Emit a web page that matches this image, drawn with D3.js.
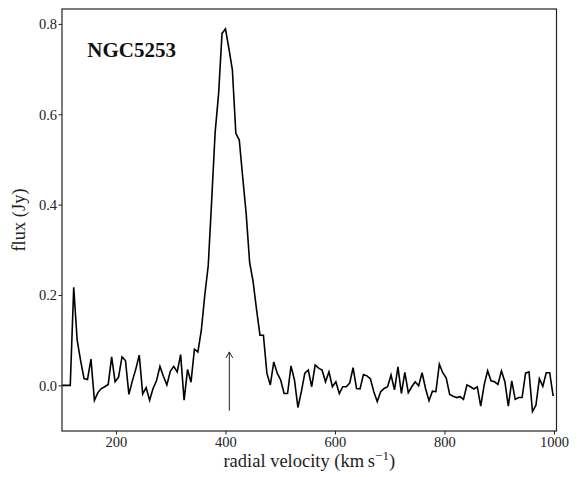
<!DOCTYPE html>
<html>
<head>
<meta charset="utf-8">
<script src="https://cdn.jsdelivr.net/npm/d3@7"></script>
<style>
  html, body { margin: 0; padding: 0; background: #fff; }
  svg { display: block; }
  .tick text { font-family: "Liberation Serif", "DejaVu Serif", serif; font-size: 14.5px; fill: #222; }
</style>
</head>
<body>
<svg id="chart" width="578" height="477"></svg>
<script>
// HI spectrum of NGC5253: flux density per velocity channel
const sourceName = "NGC5253";
const channelStart = 97.6;   // km/s, centre of the first channel
const channelWidth = 6.3;    // km/s
const flux = [
  0, 0, 0, 0, 0.217, 0.100, 0.055, 0.015, 0.013, 0.058,
  -0.033, -0.016, -0.007, -0.003, 0.002, 0.063, 0.008, 0.018, 0.063, 0.055,
  -0.020, 0.010, 0.036, 0.067, -0.019, -0.005, -0.033, -0.007, 0.010, 0.042,
  0.020, 0.001, 0.031, 0.042, 0.030, 0.068, -0.033, 0.035, 0.007, 0.080,
  0.074, 0.122, 0.200, 0.265, 0.410, 0.560, 0.645, 0.779, 0.789, 0.745,
  0.698, 0.558, 0.543, 0.460, 0.380, 0.272, 0.230, 0.168, 0.111, 0.111,
  0.027, 0.001, 0.052, 0.027, 0.012, -0.018, -0.018, 0.043, 0.012, -0.049,
  -0.014, 0.027, 0.034, -0.003, 0.045, 0.038, 0.034, 0.008, 0.030, -0.003,
  0.008, -0.018, -0.003, -0.003, 0.005, 0.039, -0.007, -0.008, 0.024, 0.021,
  0.015, -0.014, -0.036, -0.014, -0.007, -0.003, 0.023, -0.010, 0.041, -0.018,
  0.029, -0.016, -0.003, 0.008, -0.001, 0.028, -0.007, -0.034, -0.013, -0.014,
  0.047, 0.028, 0.016, -0.020, -0.024, -0.027, -0.025, -0.031, 0.001, -0.003,
  -0.008, -0.003, -0.046, 0.001, 0.032, 0.010, 0.008, 0.002, 0.032, 0.008,
  -0.046, 0.010, -0.031, -0.027, -0.027, 0.027, 0.030, -0.058, -0.044, 0.015,
  -0.002, 0.028, 0.028, -0.024
];
const xTicks = [200, 400, 600, 800, 1000];
const yTicks = [0.0, 0.2, 0.4, 0.6, 0.8];
const systemicVelocity = 407;          // arrow position, km/s
const arrowSpan = [-0.056, 0.074];     // arrow from / to, Jy

const spectrum = flux.map((f, i) => ({ v: channelStart + i * channelWidth, f }));

const svg = d3.select("#chart");
const plot = { left: 62, right: 556.5, top: 9, bottom: 431 };

const x = d3.scaleLinear().domain([101.4, 1004.6]).range([plot.left, plot.right]);
const y = d3.scaleLinear().domain([-0.101, 0.833]).range([plot.bottom, plot.top]);

svg.append("defs").append("clipPath").attr("id", "plot-clip")
  .append("rect")
  .attr("x", plot.left).attr("y", plot.top)
  .attr("width", plot.right - plot.left).attr("height", plot.bottom - plot.top);

// axes
const xAxis = svg.append("g")
  .attr("transform", `translate(0,${plot.bottom})`)
  .call(d3.axisBottom(x).tickValues(xTicks).tickFormat(d3.format("d")).tickSize(3.5).tickSizeOuter(0));
xAxis.select(".domain").remove();
xAxis.selectAll(".tick line").attr("stroke", "#222").attr("stroke-width", 1);
xAxis.selectAll(".tick text").attr("y", 15.6).attr("dy", "0");

const yAxis = svg.append("g")
  .attr("transform", `translate(${plot.left},0)`)
  .call(d3.axisLeft(y).tickValues(yTicks).tickFormat(d3.format(".1f")).tickSize(3.5).tickPadding(1.4).tickSizeOuter(0));
yAxis.select(".domain").remove();
yAxis.selectAll(".tick line").attr("stroke", "#222").attr("stroke-width", 1);
yAxis.selectAll(".tick text").attr("dy", "0.33em");

// spectrum
const line = d3.line().x(d => x(d.v)).y(d => y(d.f));
svg.append("path")
  .datum(spectrum)
  .attr("clip-path", "url(#plot-clip)")
  .attr("fill", "none")
  .attr("stroke", "#000")
  .attr("stroke-width", 1.6)
  .attr("stroke-linejoin", "miter")
  .attr("d", line);

// arrow marking the systemic velocity
const ax = x(systemicVelocity);
const arrow = svg.append("g").attr("stroke", "#222").attr("stroke-width", 1).attr("fill", "none");
arrow.append("line")
  .attr("x1", ax).attr("x2", ax)
  .attr("y1", y(arrowSpan[0])).attr("y2", y(arrowSpan[1]));
arrow.append("path")
  .attr("d", `M${ax - 3.4},${y(arrowSpan[1]) + 6} L${ax},${y(arrowSpan[1])} L${ax + 3.4},${y(arrowSpan[1]) + 6}`);

// frame
svg.append("rect")
  .attr("x", plot.left).attr("y", plot.top)
  .attr("width", plot.right - plot.left).attr("height", plot.bottom - plot.top)
  .attr("fill", "none").attr("stroke", "#222").attr("stroke-width", 1.2);

// source name
svg.append("text")
  .attr("x", 87.3).attr("y", 57.3)
  .attr("font-family", "Liberation Serif, DejaVu Serif, serif")
  .attr("font-weight", "bold").attr("font-size", 21)
  .attr("fill", "#111")
  .text(sourceName);

// axis labels
const xLabel = svg.append("text")
  .attr("x", (plot.left + plot.right) / 2).attr("y", 466.5)
  .attr("text-anchor", "middle")
  .attr("font-family", "Liberation Serif, DejaVu Serif, serif")
  .attr("font-size", 18.5).attr("fill", "#222");
xLabel.append("tspan").text("radial velocity (km\u2009s");
xLabel.append("tspan").attr("font-size", 13).attr("dy", -7).text("\u22121");
xLabel.append("tspan").attr("dy", 7).text(")");

svg.append("text")
  .attr("transform", `translate(25,${(plot.top + plot.bottom) / 2}) rotate(-90)`)
  .attr("text-anchor", "middle")
  .attr("font-family", "Liberation Serif, DejaVu Serif, serif")
  .attr("font-size", 18.5).attr("fill", "#222")
  .text("flux (Jy)");
</script>
</body>
</html>
